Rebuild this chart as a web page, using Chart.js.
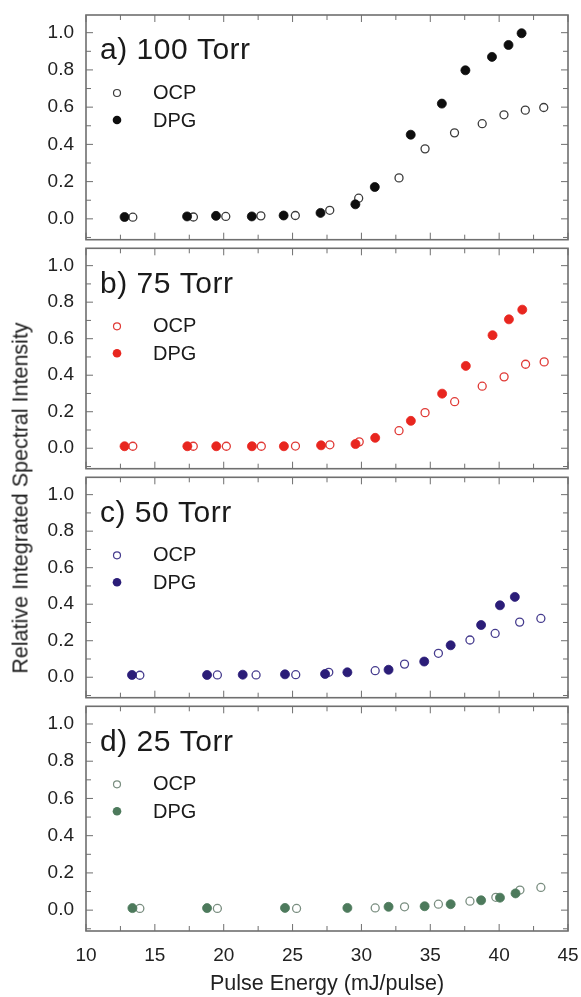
<!DOCTYPE html>
<html lang="en">
<head>
<meta charset="UTF-8">
<title>Relative Integrated Spectral Intensity</title>
<script src="https://cdn.jsdelivr.net/npm/chart.js"></script>
<style>
  body { margin: 0; background: #fff; }
  #wrap { position: relative; width: 581px; height: 997px; font-family: "Liberation Sans", Arial, sans-serif; }
  #wrap canvas { position: absolute; left: 0; }
  #ytitle { position: absolute; left: 21px; top: 498px; transform: translate(-50%, -50%) rotate(-90deg);
            white-space: nowrap; font-size: 21.5px; color: #222; }
</style>
</head>
<body>
<div id="wrap">
  <canvas id="pa" width="581" height="245" style="top:0"></canvas>
  <canvas id="pb" width="581" height="231" style="top:243px"></canvas>
  <canvas id="pc" width="581" height="231" style="top:472px"></canvas>
  <canvas id="pd" width="581" height="296" style="top:701px"></canvas>
  <div id="ytitle">Relative Integrated Spectral Intensity</div>
</div>

<script>
// tick values
const xTicks = [10, 15, 20, 25, 30, 35, 40, 45];
const xMinor = [12.5, 17.5, 22.5, 27.5, 32.5, 37.5, 42.5];
const yTicks = [0, 0.2, 0.4, 0.6, 0.8, 1.0];
const yMinor = [-0.1, 0.1, 0.3, 0.5, 0.7, 0.9];

// a) 100 Torr
const aOcpX = [13.4, 17.8, 20.15, 22.7, 25.2, 27.7, 29.8, 32.73, 34.62, 36.76, 38.77, 40.35, 41.9, 43.24];
const aOcpY = [0.009, 0.01, 0.013, 0.016, 0.018, 0.046, 0.111, 0.22, 0.376, 0.462, 0.511, 0.559, 0.584, 0.598];
const aDpgX = [12.8, 17.34, 19.44, 22.04, 24.35, 27.03, 29.56, 30.97, 33.58, 35.84, 37.55, 39.48, 40.68, 41.63];
const aDpgY = [0.01, 0.013, 0.016, 0.013, 0.018, 0.032, 0.078, 0.171, 0.452, 0.619, 0.798, 0.87, 0.934, 0.997];

// b) 75 Torr
const bOcpX = [13.4, 17.79, 20.19, 22.73, 25.21, 27.71, 29.84, 32.73, 34.62, 36.77, 38.77, 40.36, 41.92, 43.27];
const bOcpY = [0.011, 0.011, 0.011, 0.011, 0.012, 0.019, 0.035, 0.096, 0.195, 0.255, 0.34, 0.391, 0.46, 0.473];
const bDpgX = [12.8, 17.36, 19.46, 22.05, 24.37, 27.07, 29.57, 31.0, 33.59, 35.86, 37.58, 39.52, 40.71, 41.68];
const bDpgY = [0.011, 0.011, 0.011, 0.011, 0.011, 0.016, 0.023, 0.057, 0.15, 0.299, 0.451, 0.619, 0.706, 0.759];

// c) 50 Torr
const cOcpX = [13.91, 19.54, 22.35, 25.23, 27.63, 31.0, 33.13, 35.59, 37.88, 39.71, 41.49, 43.03];
const cOcpY = [0.011, 0.0125, 0.0125, 0.014, 0.027, 0.036, 0.072, 0.131, 0.204, 0.24, 0.302, 0.322];
const cDpgX = [13.34, 18.79, 21.38, 24.45, 27.36, 28.98, 31.97, 34.56, 36.48, 38.69, 40.06, 41.14];
const cDpgY = [0.0125, 0.0125, 0.014, 0.016, 0.018, 0.027, 0.041, 0.086, 0.175, 0.286, 0.394, 0.44];

// d) 25 Torr
const dOcpX = [13.91, 19.54, 25.29, 31.0, 33.13, 35.59, 37.88, 39.76, 41.51, 43.03];
const dOcpY = [0.009, 0.009, 0.009, 0.012, 0.018, 0.032, 0.048, 0.069, 0.108, 0.122];
const dDpgX = [13.37, 18.79, 24.45, 28.98, 31.97, 34.59, 36.48, 38.69, 40.06, 41.19];
const dDpgY = [0.011, 0.011, 0.012, 0.012, 0.018, 0.021, 0.032, 0.053, 0.067, 0.09];

const FONT = '"Liberation Sans", Arial, sans-serif';
const pts = (xs, ys) => xs.map((v, i) => ({ x: v, y: ys[i] }));

// frame + inward ticks on all four sides
const framePlugin = {
  id: 'frame',
  afterDraw(chart) {
    const { ctx, chartArea: a, scales: { x, y } } = chart;
    ctx.save();
    ctx.strokeStyle = '#6f6f6f';
    ctx.lineWidth = 1;
    ctx.beginPath();
    const tx = (vals, len) => vals.forEach(v => {
      const p = x.getPixelForValue(v);
      ctx.moveTo(p, a.bottom); ctx.lineTo(p, a.bottom - len);
      ctx.moveTo(p, a.top); ctx.lineTo(p, a.top + len);
    });
    const ty = (vals, len) => vals.forEach(v => {
      const p = y.getPixelForValue(v);
      ctx.moveTo(a.left, p); ctx.lineTo(a.left + len, p);
      ctx.moveTo(a.right, p); ctx.lineTo(a.right - len, p);
    });
    tx(xTicks, 7); tx(xMinor, 5);
    ty(yTicks, 7); ty(yMinor, 5);
    ctx.stroke();
    ctx.lineWidth = 1.6;
    ctx.strokeRect(a.left, a.top, a.right - a.left, a.bottom - a.top);
    ctx.restore();
  }
};

// panel title and legend inside the plot
const panelPlugin = {
  id: 'panel',
  afterDraw(chart, args, o) {
    const { ctx, chartArea: a } = chart;
    ctx.save();
    ctx.fillStyle = '#1a1a1a';
    ctx.textBaseline = 'middle';
    ctx.font = '30px ' + FONT;
    ctx.letterSpacing = '0.5px';
    ctx.fillText(o.label, a.left + 14, a.top + 36);
    ctx.letterSpacing = '0px';
    ctx.font = '20px ' + FONT;
    ctx.fillText('OCP', a.left + 67, a.top + 78);
    ctx.fillText('DPG', a.left + 67, a.top + 106);
    ctx.beginPath();
    ctx.arc(a.left + 31, a.top + 78, 3.5, 0, Math.PI * 2);
    ctx.fillStyle = '#fff'; ctx.fill();
    ctx.lineWidth = 1.2; ctx.strokeStyle = o.open; ctx.stroke();
    ctx.beginPath();
    ctx.arc(a.left + 31, a.top + 105, 4.3, 0, Math.PI * 2);
    ctx.fillStyle = o.fill; ctx.fill();
    ctx.restore();
  }
};

function makePanel(id, label, ocp, dpg, fill, open, bottom) {
  const padTop = id === 'pa' ? 15 : 1;
  new Chart(document.getElementById(id), {
    type: 'scatter',
    data: {
      datasets: [{
        label: 'DPG',
        data: dpg,
        pointRadius: 4.5,
        pointBorderWidth: 0.8,
        backgroundColor: fill,
        borderColor: fill
      }, {
        label: 'OCP',
        data: ocp,
        pointRadius: 4,
        pointBorderWidth: 1.3,
        backgroundColor: '#fff',
        borderColor: open
      }]
    },
    options: {
      responsive: false,
      animation: false,
      layout: { padding: { top: padTop, bottom: bottom ? 0 : 1, left: 0, right: 13 } },
      plugins: {
        legend: { display: false },
        tooltip: { enabled: false },
        panel: { label: label, fill: fill, open: open }
      },
      scales: {
        x: {
          type: 'linear',
          min: 10, max: 45,
          display: bottom,
          grid: { display: false, drawTicks: false },
          border: { display: false },
          afterBuildTicks: s => { s.ticks = xTicks.map(v => ({ value: v })); },
          afterFit: s => {
            if (bottom) s.height = 66;
            s.paddingLeft = 0; s.paddingRight = 0;
          },
          ticks: { padding: 13, color: '#222', font: { family: FONT, size: 19 } },
          title: {
            display: bottom,
            text: 'Pulse Energy (mJ/pulse)',
            color: '#222',
            font: { family: FONT, size: 21.5 },
            padding: { top: 0, bottom: 0 }
          }
        },
        y: {
          type: 'linear',
          min: -0.112, max: 1.095,
          grid: { display: false, drawTicks: false },
          border: { display: false },
          afterBuildTicks: s => { s.ticks = yTicks.map(v => ({ value: v })); },
          afterFit: s => { s.width = 86; s.paddingTop = 0; s.paddingBottom = 0; },
          ticks: {
            padding: 12,
            color: '#222',
            font: { family: FONT, size: 19 },
            callback: v => v.toFixed(1)
          }
        }
      }
    },
    plugins: [framePlugin, panelPlugin]
  });
}

makePanel('pa', 'a) 100 Torr', pts(aOcpX, aOcpY), pts(aDpgX, aDpgY), '#0e0e0e', '#3c3c3c', false);
makePanel('pb', 'b) 75 Torr', pts(bOcpX, bOcpY), pts(bDpgX, bDpgY), '#e8261f', '#e03a36', false);
makePanel('pc', 'c) 50 Torr', pts(cOcpX, cOcpY), pts(cDpgX, cDpgY), '#2b1d78', '#463c8e', false);
makePanel('pd', 'd) 25 Torr', pts(dOcpX, dOcpY), pts(dDpgX, dDpgY), '#4d7a5c', '#7a8e80', true);
</script>
</body>
</html>
